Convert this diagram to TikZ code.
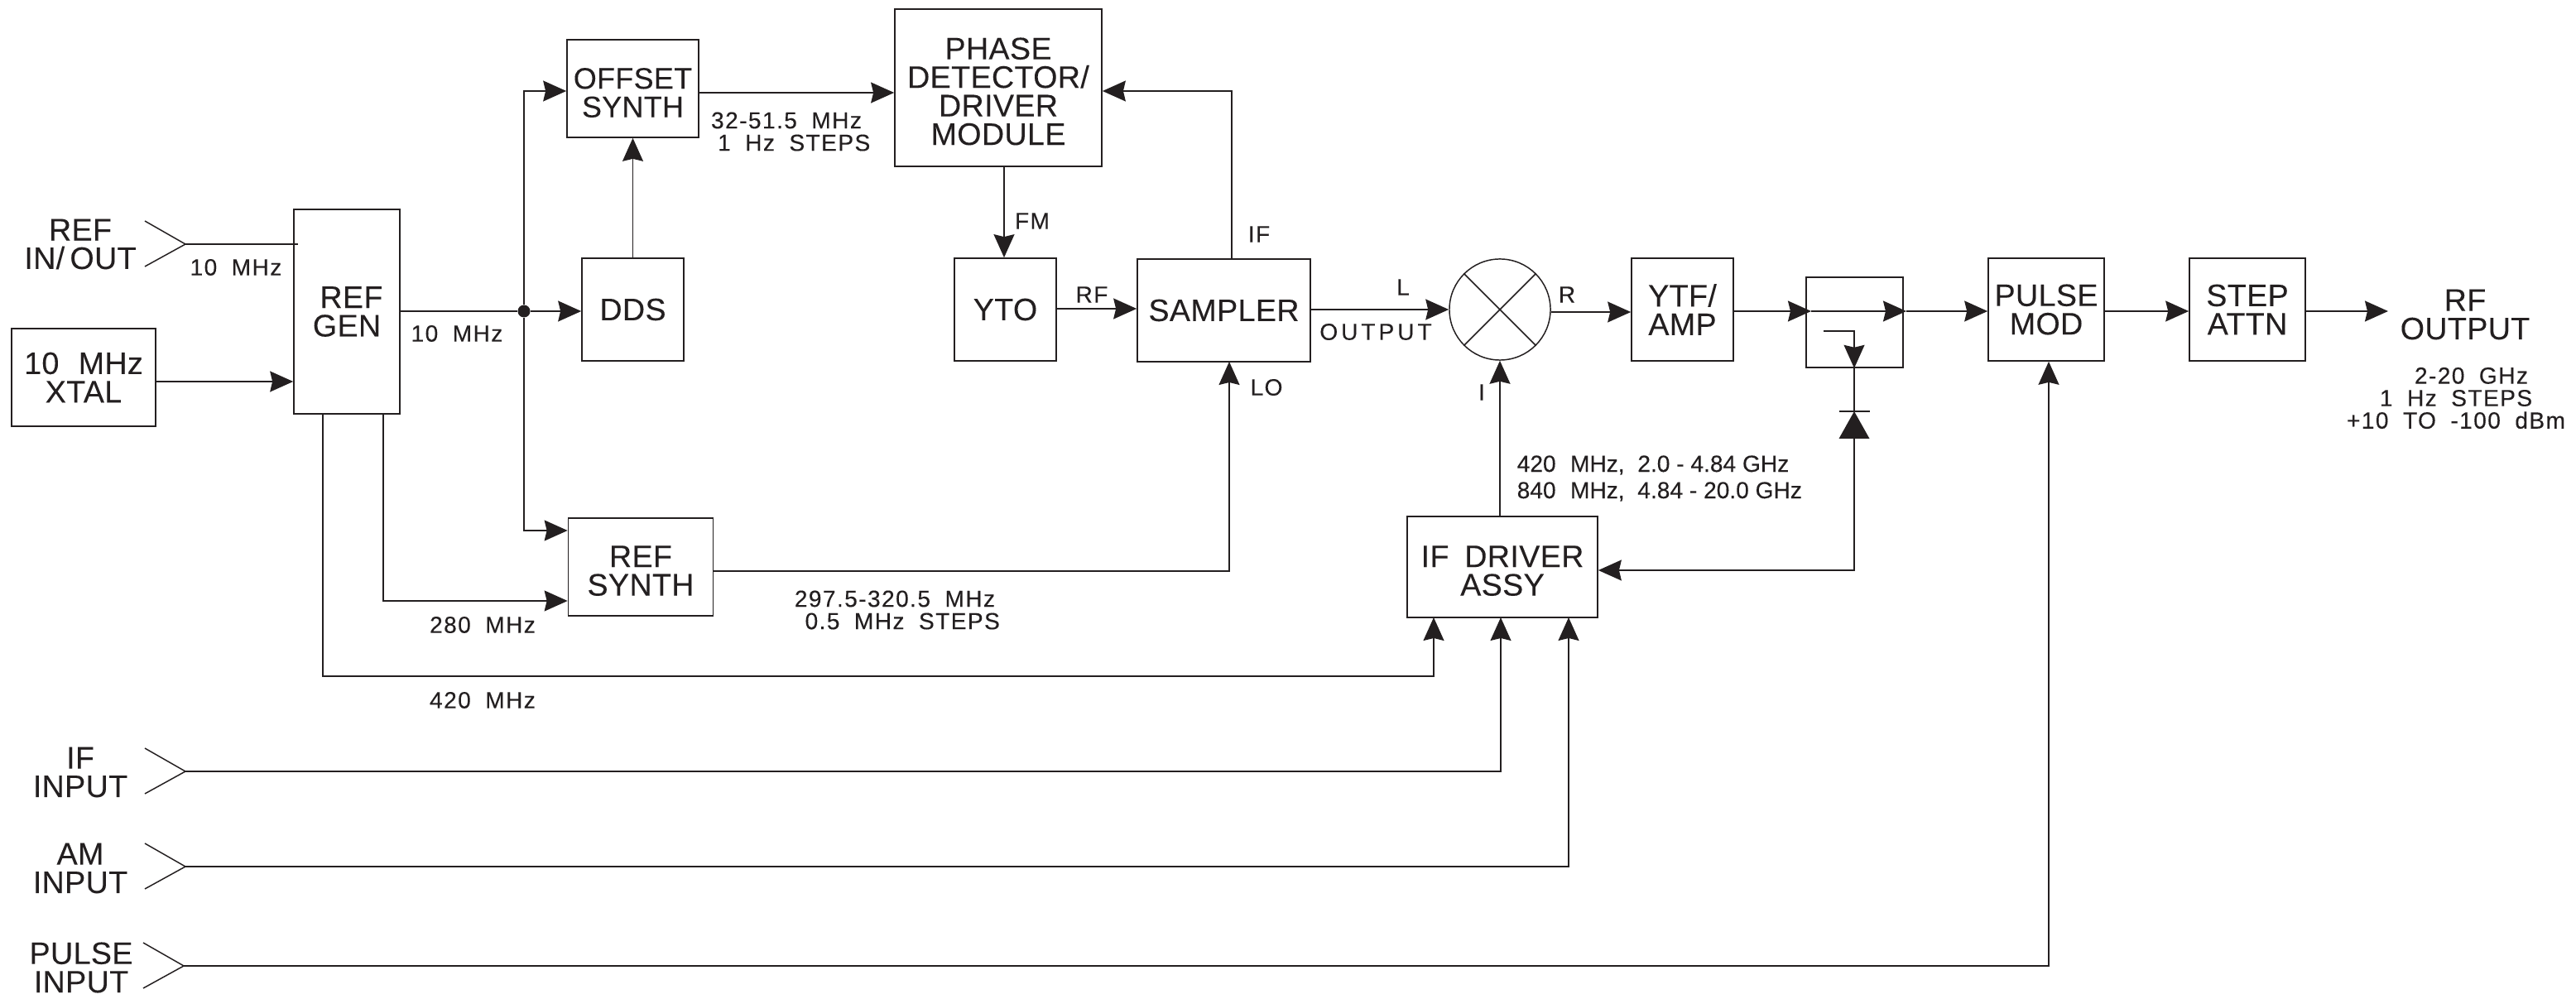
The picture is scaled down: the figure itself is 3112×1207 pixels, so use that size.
\documentclass[tikz,border=0pt]{standalone}
\usepackage{fontspec}
\setmainfont[LetterSpace=1,FakeBold=0.1]{Liberation Sans}
\newfontfamily\lblfont[LetterSpace=5,FakeBold=0.2]{Liberation Sans}
\newfontfamily\lblplain[FakeBold=0.2]{Liberation Sans}
\newfontfamily\lblwide[LetterSpace=14,FakeBold=0.2]{Liberation Sans}
\usepackage{xcolor}
\usepackage{tikz}
\usetikzlibrary{arrows.meta, calc}
\definecolor{inkblack}{HTML}{231F20}
\newcommand{\gp}{\hspace{0.62em}}
\newcommand{\toplift}{\rule{0pt}{10pt}}
\tikzset{
    wire/.style={line width=0.42pt, draw=inkblack},
    arrowwire/.style={wire, -{Stealth[length=0.28cm, width=0.25cm, inset=0.03cm]}},
    blockbox/.style={draw=inkblack, line width=0.45pt, inner sep=0pt, align=center, text=inkblack,
        font=\fontsize{10.7}{9.8}\selectfont},
    biglabel/.style={inner sep=0pt, align=center, text=inkblack, font=\fontsize{10.7}{9.8}\selectfont},
    smalllabel/.style={inner sep=0pt, align=center, text=inkblack, font=\fontsize{8}{7.7}\selectfont\lblfont}
}
\begin{document}
\begin{tikzpicture}[x=0.01cm, y=-0.01cm]
    \useasboundingbox (0,0) rectangle (3112,1207);

    % Blocks
    \node[blockbox, minimum width=1.74cm, minimum height=1.18cm] (xtal) at (101,456) {10\gp MHz\\XTAL};
    \node[blockbox, minimum width=1.28cm, minimum height=2.47cm] (refgen) at (419,376.5) {\ REF\\GEN};
    \node[blockbox, minimum width=1.59cm, minimum height=1.18cm, font=\fontsize{10.2}{9.8}\selectfont] (offset) at (764.5,107) {\toplift OFFSET\\SYNTH};
    \node[blockbox, minimum width=1.23cm, minimum height=1.24cm] (dds) at (764.5,374) {DDS};
    \node[blockbox, minimum width=1.75cm, minimum height=1.18cm] (refsynth) at (774,685) {\toplift REF\\SYNTH};
    \node[blockbox, minimum width=2.50cm, minimum height=1.90cm] (phase) at (1206,106) {\toplift PHASE\\DETECTOR/\\DRIVER\\MODULE};
    \node[blockbox, minimum width=1.23cm, minimum height=1.24cm] (yto) at (1214.5,374) {YTO};
    \node[blockbox, minimum width=2.09cm, minimum height=1.24cm] (sampler) at (1478.5,375) {SAMPLER};
    \node[draw=inkblack, line width=0.42pt, circle, minimum size=1.22cm, inner sep=0pt] (mixer) at (1812,374) {};
    \node[blockbox, minimum width=1.23cm, minimum height=1.24cm] (ytf) at (2032.5,374) {YTF/\\AMP};
    \node[blockbox, minimum width=1.17cm, minimum height=1.09cm] (switch) at (2240.5,389.5) {};
    \node[blockbox, minimum width=1.40cm, minimum height=1.24cm] (pulsemod) at (2472,374) {PULSE\\MOD};
    \node[blockbox, minimum width=1.40cm, minimum height=1.24cm] (attn) at (2715,374) {STEP\\ATTN};
    \node[blockbox, minimum width=2.30cm, minimum height=1.22cm] (ifdriver) at (1815,685) {\toplift IF\hspace{0.5em}DRIVER\\ASSY};

    % Connector points
    \node[circle, fill=inkblack, minimum size=0.15cm, inner sep=0pt] (jct) at (633,376) {};
    \coordinate (refin) at (224,295);
    \coordinate (refend) at (360,295);
    \coordinate (ifin) at (224,932);
    \coordinate (amin) at (224,1047);
    \coordinate (pulsein) at (222,1167);
    \coordinate (rfout) at (2885,376);
    \coordinate (swin) at (2188,376);
    \coordinate (swout) at (2303,376);
    \coordinate (swtap) at (2203,400);
    \coordinate (swarm) at (2240,400);
    \coordinate (diodetop) at (2240,497);
    \coordinate (diodebase) at (2240,530);
    \coordinate (ifcorner) at (2240,689);

    % Input connectors
    \foreach \inpt in {refin, ifin, amin, pulsein}
        \draw[wire] ($(\inpt)+(-49,-28)$) -- (\inpt) -- ($(\inpt)+(-49,27)$);

    % Reference section
    \draw[wire] (refin) -- (refend);
    \draw[arrowwire] (xtal.east |- 0,461) -- (refgen.west |- 0,461);
    \draw[wire] (refgen.east |- jct) -- (jct);
    \draw[arrowwire] (jct) -- (dds.west |- jct);
    \draw[arrowwire] (jct) |- (offset.west |- 0,110);
    \draw[arrowwire] (jct) |- (refsynth.west |- 0,641);
    \draw[arrowwire] (463,499) |- (refsynth.west |- 0,726);
    \draw[arrowwire] (390,499) |- (1732,817) -- (1732,746);

    % Synthesis loop
    \draw[arrowwire] (dds.north) -- (offset.south);
    \draw[arrowwire] (offset.east |- 0,112) -- (phase.west |- 0,112);
    \draw[arrowwire] (1488,313) |- (phase.east |- 0,110);
    \draw[arrowwire] (1213,201) -- (yto.north -| 1213,0);
    \draw[arrowwire] (yto.east |- 0,373) -- (sampler.west |- 0,373);
    \draw[arrowwire] (refsynth.east |- 0,690) -| (1485,437);

    % Output chain
    \draw[arrowwire] (sampler.east |- mixer) -- (mixer.west);
    \draw[wire] (mixer.45) -- (mixer.225);
    \draw[wire] (mixer.135) -- (mixer.315);
    \draw[arrowwire] (mixer.east |- 0,377) -- (ytf.west |- 0,377);
    \draw[arrowwire] (ytf.east |- swin) -- (swin);
    \draw[arrowwire] (swin) -- (swout);
    \draw[arrowwire] (swout) -- (pulsemod.west |- swout);
    \draw[arrowwire] (pulsemod.east |- swout) -- (attn.west |- swout);
    \draw[arrowwire] (attn.east |- rfout) -- (rfout);
    \draw[arrowwire] (ifdriver.north -| mixer) -- (mixer.south);

    % Switch and diode
    \draw[arrowwire] (swtap) -- (swarm) -- (switch.south -| swarm);
    \draw[wire] (switch.south -| swarm) -- (diodetop);
    \fill[inkblack] (diodetop) -- ($(diodebase)+(18.5,0)$) -- ($(diodebase)+(-18.5,0)$) -- cycle;
    \draw[wire] ($(diodetop)+(-18.5,0)$) -- ($(diodetop)+(18.5,0)$);
    \draw[arrowwire] (diodebase) -- (ifcorner) -- (ifdriver.east |- ifcorner);

    % Input lines
    \draw[arrowwire] (ifin) -| (1813,746);
    \draw[arrowwire] (amin) -| (1895,746);
    \draw[arrowwire] (pulsein) -| (pulsemod.south -| 2475,0);

    % Left hand labels
    \node[biglabel] (reflbl) at (97,295) {REF\\IN/\,OUT};
    \node[biglabel] (iflbl) at (97,933) {IF\\INPUT};
    \node[biglabel] (amlbl) at (97,1049) {AM\\INPUT};
    \node[biglabel] (pulselbl) at (98,1169) {PULSE\\INPUT};
    \node[biglabel] (rflbl) at (2978,380) {RF\\OUTPUT};

    % Signal labels
    \node[smalllabel] (l10a) at (285,323) {10\gp MHz};
    \node[smalllabel] (l10b) at (552,403) {10\gp MHz};
    \node[smalllabel] (l280) at (583,755) {280\gp MHz};
    \node[smalllabel] (l420) at (583,846) {420\gp MHz};
    \node[smalllabel] (loffs) at (950,159) {32-51.5\gp MHz\\\ \ 1\gp Hz\gp STEPS};
    \node[smalllabel] (lrefs) at (1081,737) {297.5-320.5\gp MHz\\\ \ 0.5\gp MHz\gp STEPS};
    \node[smalllabel] (lfm) at (1247,267) {FM};
    \node[smalllabel] (lif) at (1521,283) {IF};
    \node[smalllabel] (lrf) at (1319,356) {RF};
    \node[smalllabel] (llo) at (1530,468) {LO};
    \node[smalllabel] (ll) at (1695,347) {L};
    \node[smalllabel, font=\fontsize{8}{7.7}\selectfont\lblwide] (loutput) at (1662,401) {OUTPUT};
    \node[smalllabel] (lr) at (1893,356) {R};
    \node[smalllabel] (li) at (1790,474) {I};
    \node[smalllabel, anchor=west, font=\fontsize{8}{7.7}\selectfont\lblplain] (lfreqa) at (1832,562) {420\gp MHz,\ \ 2.0 - 4.84 GHz};
    \node[smalllabel, anchor=west, font=\fontsize{8}{7.7}\selectfont\lblplain] (lfreqb) at (1832,594) {840\gp MHz,\ \ 4.84 - 20.0 GHz};
    \node[smalllabel] (lspec) at (2967,481) {\ \ \ \ 2-20\gp GHz\\1\gp Hz\gp STEPS\\+10\gp TO\gp -100\gp dBm};
\end{tikzpicture}
\end{document}
